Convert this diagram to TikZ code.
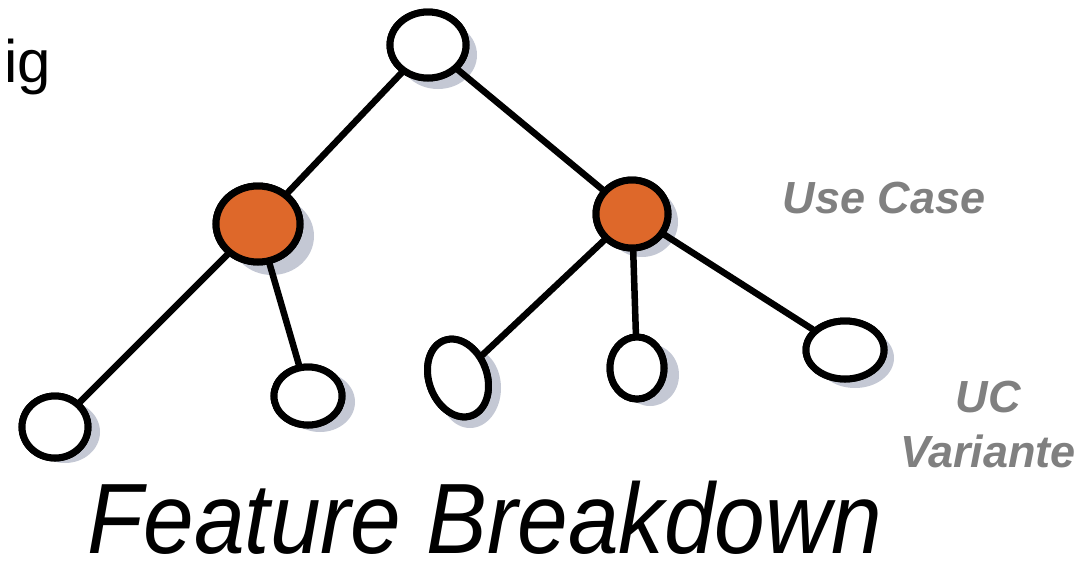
\documentclass[tikz,border=0pt]{standalone}
\usepackage{fontspec}
\setmainfont{Liberation Sans}
\usetikzlibrary{shapes.geometric}
\definecolor{ucorange}{RGB}{222,104,42}
\definecolor{shadowgray}{RGB}{196,200,212}
\definecolor{labelgray}{RGB}{128,128,128}
\tikzset{
  nd/.style={ellipse, draw=black, line width=7pt, inner sep=0pt},
  leafnd/.style={nd, fill=white},
  ucnd/.style={nd, fill=ucorange},
  shad/.style={ellipse, fill=shadowgray, draw=none, inner sep=0pt},
  edge/.style={draw=black, line width=6.5pt, line cap=round},
  lbl/.style={text=labelgray, font=\fontsize{45}{55}\selectfont\bfseries\itshape, align=center}
}
\begin{document}
\begin{tikzpicture}[x=1pt,y=-1pt]
\useasboundingbox[fill=white] (0,0) rectangle (1087,574);
% shadows
\node[shad, minimum width=78pt, minimum height=68pt] at (438,55) {};
\node[shad, minimum width=84pt, minimum height=78pt] at (272,236) {};
\node[shad, minimum width=72pt, minimum height=70pt] at (642,222) {};
\node[shad, minimum width=70pt, minimum height=62pt] at (65,432) {};
\node[shad, minimum width=70pt, minimum height=60pt] at (320,402) {};
\node[shad, minimum width=62pt, minimum height=80pt] at (470,388) {};
\node[shad, minimum width=58pt, minimum height=62pt] at (650,375) {};
\node[shad, minimum width=78pt, minimum height=60pt] at (855,358) {};
% nodes
\node[leafnd, minimum width=76pt, minimum height=66pt] (root) at (428,45) {};
\node[ucnd, minimum width=84pt, minimum height=76pt] (ucl) at (258,224) {};
\node[ucnd, minimum width=72pt, minimum height=68pt] (ucr) at (632,214) {};
\node[leafnd, minimum width=66pt, minimum height=62pt] (l1) at (55,427) {};
\node[leafnd, minimum width=68pt, minimum height=58pt] (l2) at (308,396) {};
\node[leafnd, minimum width=58pt, minimum height=80pt, rotate=20] (l3) at (458,378) {};
\node[leafnd, minimum width=54pt, minimum height=62pt] (l4) at (637,368) {};
\node[leafnd, minimum width=78pt, minimum height=58pt] (l5) at (845,350) {};
% connectors
\draw[edge] (root) -- (ucl);
\draw[edge] (root) -- (ucr);
\draw[edge] (ucl) -- (l1);
\draw[edge] (ucl) -- (l2);
\draw[edge] (ucr) -- (l3);
\draw[edge] (ucr) -- (l4);
\draw[edge] (ucr) -- (l5);
% redraw nodes over connectors
\node[leafnd, minimum width=76pt, minimum height=66pt] at (428,45) {};
\node[ucnd, minimum width=84pt, minimum height=76pt] at (258,224) {};
\node[ucnd, minimum width=72pt, minimum height=68pt] at (632,214) {};
\node[leafnd, minimum width=66pt, minimum height=62pt] at (55,427) {};
\node[leafnd, minimum width=68pt, minimum height=58pt] at (308,396) {};
\node[leafnd, minimum width=58pt, minimum height=80pt, rotate=20] at (458,378) {};
\node[leafnd, minimum width=54pt, minimum height=62pt] at (637,368) {};
\node[leafnd, minimum width=78pt, minimum height=58pt] at (845,350) {};
% texts
\node[anchor=base west, inner sep=0pt, font=\fontsize{60}{64}\selectfont] (ig) at (4,82) {ig};
\node[lbl, anchor=base] (uc) at (884,213) {Use Case};
\node[lbl, anchor=base, text width=200pt] (ucv) at (988,412) {UC\\Variante};
\node[anchor=base, inner sep=0pt, font=\fontsize{100}{100}\selectfont\itshape, xscale=0.91] (fb) at (485,553) {Feature Breakdown};
\end{tikzpicture}
\end{document}
